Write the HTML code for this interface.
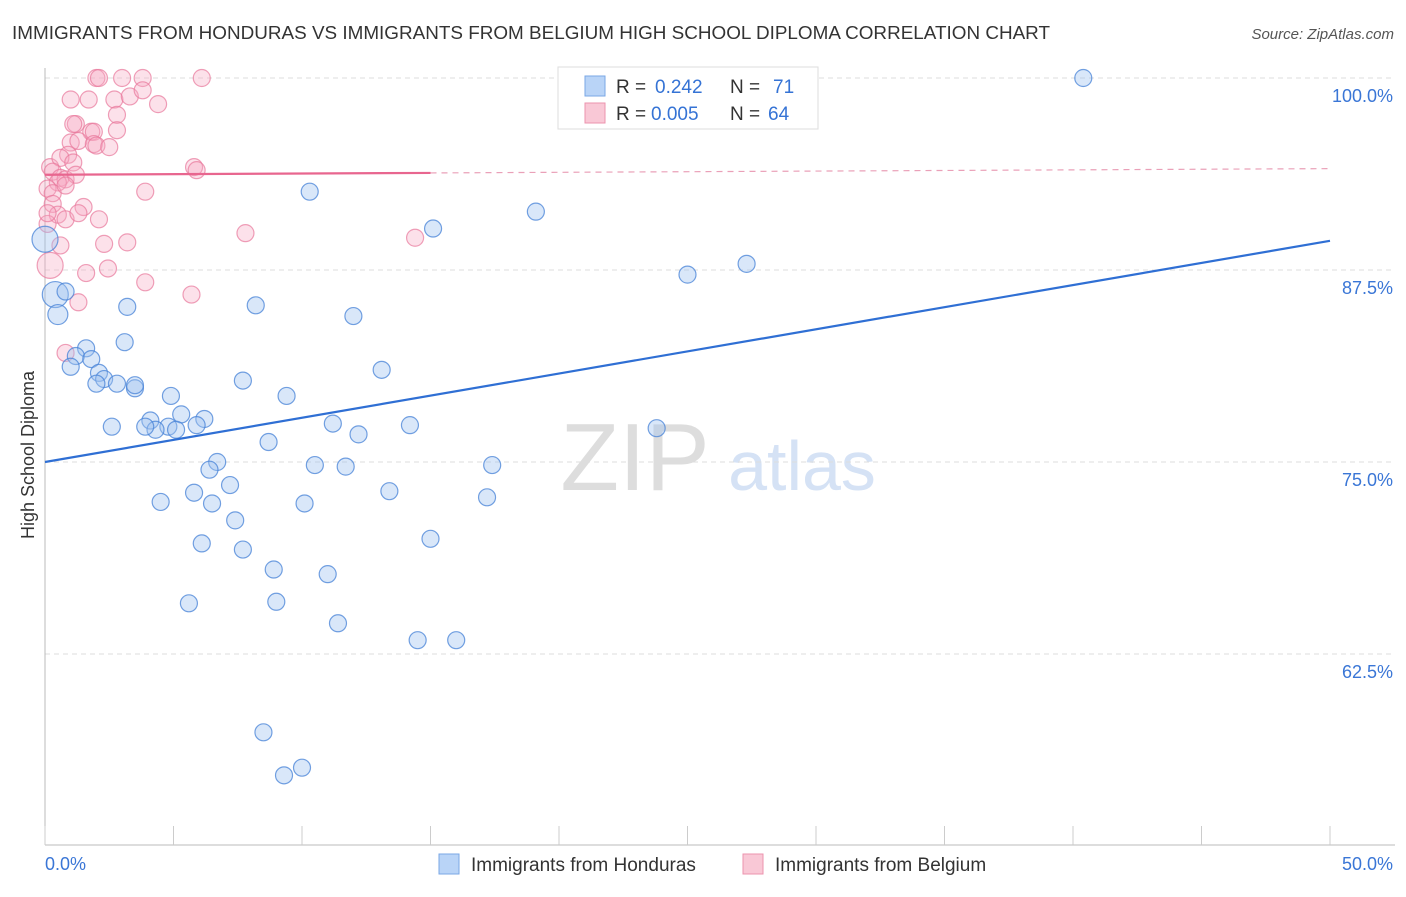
<!DOCTYPE html>
<html><head><meta charset="utf-8"><style>
body{margin:0;background:#fff;font-family:"Liberation Sans",sans-serif}
svg text{font-family:"Liberation Sans",sans-serif}
</style></head><body>
<svg id="c" width="1406" height="892" xmlns="http://www.w3.org/2000/svg">
<text x="12" y="39" font-size="18" fill="#333" textLength="1038" lengthAdjust="spacingAndGlyphs">IMMIGRANTS FROM HONDURAS VS IMMIGRANTS FROM BELGIUM HIGH SCHOOL DIPLOMA CORRELATION CHART</text>
<text x="1394" y="39" font-size="15" fill="#555" font-style="italic" text-anchor="end">Source: ZipAtlas.com</text>
<text x="34" y="455" font-size="18" fill="#333" text-anchor="middle" transform="rotate(-90 34 455)">High School Diploma</text>
<g><text x="635" y="490" font-size="96" fill="#ddd" font-family="Liberation Serif" text-anchor="middle">ZIP</text><text x="802" y="490" font-size="70" fill="#d5e2f5" text-anchor="middle">atlas</text></g>
<g id="grid"></g><g id="pts"></g><g id="lines"></g>
<g>
<rect x="558" y="67" width="260" height="62" fill="#fff" stroke="#ddd"/>
<rect x="585" y="76" width="20" height="20" fill="#b9d4f7" stroke="#7aa7e6"/>
<rect x="585" y="103" width="20" height="20" fill="#f9c8d6" stroke="#ec93ae"/>
<text x="616" y="93" font-size="19" fill="#333">R = <tspan x="655" fill="#3573d5">0.242</tspan><tspan x="730">N = </tspan><tspan x="773" fill="#3573d5">71</tspan></text>
<text x="616" y="120" font-size="19" fill="#333">R = <tspan x="651" fill="#3573d5">0.005</tspan><tspan x="730">N = </tspan><tspan x="768" fill="#3573d5">64</tspan></text>
</g>
<g>
<rect x="439" y="854" width="20" height="20" fill="#b9d4f7" stroke="#7aa7e6"/>
<text x="471" y="871" font-size="19" fill="#333">Immigrants from Honduras</text>
<rect x="743" y="854" width="20" height="20" fill="#f9c8d6" stroke="#ec93ae"/>
<text x="775" y="871" font-size="19" fill="#333">Immigrants from Belgium</text>
</g>
</svg>
<script>
const yTicks=[100,87.5,75,62.5];
const yTickLabels=["100.0%","87.5%","75.0%","62.5%"];
const xTickLabels=["0.0%","50.0%"];
const hondX=[40.4,28.2,10.3,19.1,15.1,25.0,27.3,0,0.4,0.8,0.5,3.2,8.2,12.0,3.1,1.6,1.2,1.8,1.0,2.1,2.3,2.0,2.8,3.5,3.5,7.7,13.1,9.4,4.9,5.3,6.2,4.1,4.8,2.6,4.3,3.9,5.1,5.9,11.2,12.2,14.2,23.8,8.7,6.7,6.4,10.5,11.7,17.4,7.2,5.8,13.4,4.5,6.5,10.1,17.2,7.4,15.0,6.1,7.7,8.9,11.0,5.6,9.0,11.4,14.5,16.0,8.5,10.0,9.3];
const hondY=[100,100,92.6,91.3,90.2,87.2,87.9,89.5,85.9,86.1,84.6,85.1,85.2,84.5,82.8,82.4,81.9,81.7,81.2,80.8,80.4,80.1,80.1,79.8,80.0,80.3,81.0,79.3,79.3,78.1,77.8,77.7,77.3,77.3,77.1,77.3,77.1,77.4,77.5,76.8,77.4,77.2,76.3,75.0,74.5,74.8,74.7,74.8,73.5,73.0,73.1,72.4,72.3,72.3,72.7,71.2,70.0,69.7,69.3,68.0,67.7,65.8,65.9,64.5,63.4,63.4,57.4,55.1,54.6];
const belgX=[2.0,2.1,3.0,3.8,6.1,1.0,1.7,2.7,3.3,3.8,4.4,2.8,2.8,1.2,1.1,1.8,1.9,1.0,1.3,1.9,2.0,2.5,0.2,0.9,0.6,1.1,0.3,0.6,0.8,1.2,0.5,0.1,0.3,0.8,0.3,1.5,0.5,0.1,0.8,1.3,2.1,5.8,5.9,3.9,7.8,14.4,3.2,2.3,0.6,0.2,1.6,2.45,3.9,5.7,1.3,0.8,0.1];
const belgY=[100,100,100,100,100,98.6,98.6,98.6,98.8,99.2,98.3,97.6,96.6,97.0,97.0,96.5,96.5,95.8,95.9,95.7,95.6,95.5,94.2,95.0,94.8,94.5,93.9,93.5,93.4,93.7,93.2,92.8,92.5,93.0,91.8,91.6,91.1,90.5,90.8,91.2,90.8,94.2,94.0,92.6,89.9,89.6,89.3,89.2,89.1,87.8,87.3,87.6,86.7,85.9,85.4,82.1,91.2];
const hondFit=[75.0,89.4], belgFit=[93.7,94.1];
const X=v=>45+v/50*1285, Y=v=>78+(100-v)/12.5*192;
const NS="http://www.w3.org/2000/svg";
function mk(p,t,a){const e=document.createElementNS(NS,t);for(const k in a)e.setAttribute(k,a[k]);p.appendChild(e);return e;}
const g=document.getElementById('grid');
yTicks.forEach((t,i)=>{
 const l=mk(g,'line',{x1:45,x2:1395,y1:Y(t),y2:Y(t),stroke:'#ddd','stroke-dasharray':'5,4'});
 
 
 const tx=mk(g,'text',{x:1393,y:Y(t)+24,'font-size':18,fill:'#3a76d6','text-anchor':'end'});tx.textContent=yTickLabels[i];
 
 
});
const ax=mk(g,'line',{x1:45,x2:1395,y1:845,y2:845,stroke:'#bbb'});


const ay=mk(g,'line',{x1:45,x2:45,y1:68,y2:845,stroke:'#bbb'});


for(let i=0;i<=10;i++){const t=mk(g,'line',{x1:X(i*5),x2:X(i*5),y1:826,y2:845,stroke:'#ccc'});
 
 }
[[0,'start',45],[50,'end',1393]].forEach((d,i)=>{const t=mk(g,'text',{x:d[2],y:870,'font-size':18,fill:'#3a76d6','text-anchor':d[1]});t.textContent=xTickLabels[i];
 
 });
const p=document.getElementById('pts');
belgX.forEach((v,i)=>{const c=mk(p,'circle',{cx:X(v),cy:Y(belgY[i]),r:i==49?13:8.5,fill:'rgba(246,170,195,0.35)',stroke:'rgba(232,120,155,0.7)','stroke-width':1.2});
 
 });
hondX.forEach((v,i)=>{const c=mk(p,'circle',{cx:X(v),cy:Y(hondY[i]),r:(i==7||i==8)?13:(i==10?10:8.5),fill:'rgba(160,195,240,0.4)',stroke:'rgba(70,130,215,0.75)','stroke-width':1.2});
 
 });
const L=document.getElementById('lines');
const l1=mk(L,'line',{x1:X(0),y1:Y(hondFit[0]),x2:X(50),y2:Y(hondFit[1]),stroke:'#2f6fd4','stroke-width':2.2});


const by=x=>belgFit[0]+(belgFit[1]-belgFit[0])*x/50;
const l2=mk(L,'line',{x1:X(0),y1:Y(by(0)),x2:X(15),y2:Y(by(15)),stroke:'#e8668f','stroke-width':2.2});


const l3=mk(L,'line',{x1:X(15),y1:Y(by(15)),x2:X(50),y2:Y(by(50)),stroke:'#eaa0b8','stroke-width':1.2,'stroke-dasharray':'6,5'});


</script>
</body></html>
